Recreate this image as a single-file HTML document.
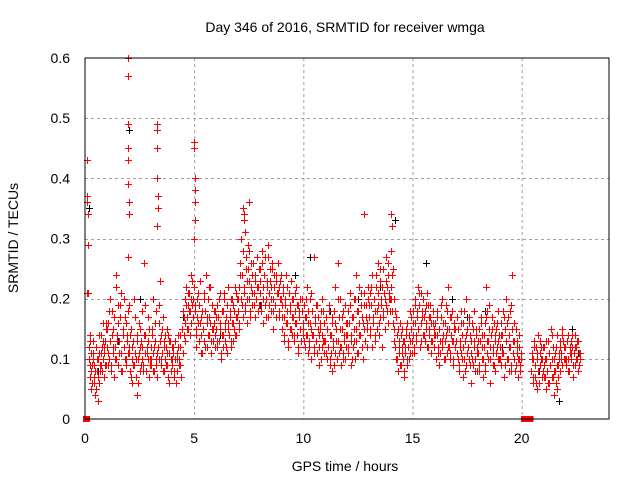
<!DOCTYPE html>
<html><head><meta charset="utf-8"><style>
html,body{margin:0;padding:0;background:#fff;}
svg{display:block;font-family:"Liberation Sans",sans-serif;}
</style></head><body>
<svg id="chart" width="640" height="480" viewBox="0 0 640 480" xmlns="http://www.w3.org/2000/svg">
<text x="345" y="32" font-size="14" text-anchor="middle" fill="#000">Day 346 of 2016, SRMTID for receiver wmga</text>
<text x="345" y="471" font-size="14" text-anchor="middle" fill="#000">GPS time / hours</text>
<text x="0" y="0" font-size="14" text-anchor="middle" fill="#000" transform="translate(18,238) rotate(-90)">SRMTID / TECUs</text>
<g id="grid"></g>
<g id="ticks"></g>
<g id="black" shape-rendering="crispEdges"></g>
<g id="red" shape-rendering="crispEdges"></g>
<rect x="85" y="58" width="524" height="361" fill="none" stroke="#000" stroke-width="1"/>
</svg>
<script>
const xTicks=[0,5,10,15,20];
const yTicks=[0,0.1,0.2,0.3,0.4,0.5,0.6];
const yTickLabels=["0","0.1","0.2","0.3","0.4","0.5","0.6"];
const segStart=[0.15,1,2,3,4,5,6,7,8,9,10,11,12,13,14,15,16,17,18,19,20.45,21,22];
const segEnd=[1,2,3,4,5,6,7,8,9,10,11,12,13,14,15,16,17,18,19,20,21,22,22.7];
const seg0=[0.21,0.12,0.09,0.14,0.08,0.11,0.06,0.1,0.13,0.07,0.09,0.04,0.12,0.05,0.08,0.03,0.1,0.06,0.11,0.08,0.14,0.09,0.12,0.1,0.16,0.07,0.11,0.13,0.09,0.15];
const seg1=[0.12,0.09,0.16,0.1,0.2,0.13,0.08,0.18,0.11,0.15,0.07,0.12,0.24,0.1,0.14,0.19,0.09,0.13,0.17,0.11,0.21,0.08,0.14,0.12,0.2,0.1,0.16,0.09,0.13,0.18];
const seg2=[0.19,0.12,0.08,0.15,0.1,0.06,0.13,0.09,0.2,0.11,0.07,0.14,0.04,0.1,0.16,0.12,0.08,0.13,0.1,0.18,0.09,0.26,0.11,0.14,0.08,0.12,0.17,0.1,0.15,0.09];
const seg3=[0.12,0.09,0.15,0.11,0.2,0.08,0.13,0.1,0.18,0.07,0.12,0.16,0.1,0.23,0.14,0.09,0.11,0.17,0.13,0.08,0.1,0.12,0.15,0.09,0.14,0.06,0.11,0.13,0.08,0.1];
const seg4=[0.09,0.12,0.07,0.1,0.13,0.06,0.11,0.08,0.14,0.1,0.09,0.12,0.07,0.15,0.11,0.18,0.14,0.2,0.16,0.22,0.17,0.19,0.15,0.21,0.18,0.16,0.24,0.19,0.17,0.2];
const seg5=[0.22,0.18,0.15,0.12,0.2,0.16,0.13,0.19,0.23,0.14,0.17,0.11,0.15,0.21,0.13,0.18,0.24,0.12,0.16,0.2,0.14,0.17,0.22,0.11,0.15,0.19,0.13,0.16,0.12,0.18];
const seg6=[0.15,0.19,0.12,0.17,0.13,0.21,0.16,0.1,0.14,0.18,0.12,0.2,0.15,0.13,0.17,0.11,0.16,0.22,0.14,0.18,0.12,0.2,0.16,0.13,0.19,0.15,0.22,0.17,0.14,0.2];
const seg7=[0.18,0.22,0.15,0.26,0.2,0.3,0.24,0.17,0.33,0.21,0.19,0.27,0.23,0.16,0.25,0.2,0.28,0.18,0.22,0.24,0.19,0.26,0.21,0.17,0.23,0.2,0.27,0.22,0.18,0.25];
const seg8=[0.21,0.25,0.18,0.28,0.22,0.16,0.24,0.19,0.27,0.2,0.23,0.17,0.29,0.21,0.25,0.18,0.22,0.26,0.15,0.2,0.24,0.19,0.23,0.17,0.21,0.26,0.18,0.22,0.2,0.24];
const seg9=[0.19,0.15,0.22,0.17,0.13,0.2,0.24,0.16,0.18,0.12,0.21,0.15,0.19,0.23,0.14,0.17,0.2,0.13,0.18,0.16,0.22,0.14,0.19,0.11,0.17,0.2,0.15,0.13,0.18,0.16];
const seg10=[0.15,0.19,0.12,0.17,0.14,0.22,0.11,0.16,0.13,0.2,0.15,0.1,0.18,0.14,0.27,0.12,0.16,0.19,0.13,0.11,0.17,0.14,0.09,0.15,0.18,0.12,0.2,0.13,0.16,0.11];
const seg11=[0.13,0.17,0.1,0.15,0.12,0.19,0.09,0.14,0.11,0.16,0.08,0.13,0.18,0.11,0.22,0.15,0.1,0.26,0.13,0.17,0.12,0.2,0.09,0.15,0.11,0.18,0.14,0.1,0.16,0.12];
const seg12=[0.14,0.18,0.11,0.16,0.21,0.13,0.09,0.17,0.12,0.2,0.15,0.1,0.24,0.13,0.18,0.11,0.16,0.22,0.14,0.19,0.12,0.17,0.1,0.21,0.15,0.13,0.19,0.16,0.12,0.2];
const seg13=[0.17,0.21,0.14,0.19,0.12,0.24,0.16,0.2,0.13,0.18,0.22,0.15,0.26,0.19,0.14,0.23,0.17,0.2,0.12,0.25,0.18,0.21,0.15,0.27,0.19,0.22,0.16,0.24,0.2,0.18];
const seg14=[0.22,0.28,0.18,0.25,0.15,0.2,0.12,0.17,0.1,0.14,0.08,0.13,0.11,0.16,0.09,0.12,0.15,0.1,0.13,0.07,0.11,0.14,0.09,0.16,0.12,0.1,0.18,0.13,0.15,0.11];
const seg15=[0.14,0.18,0.11,0.16,0.2,0.13,0.17,0.22,0.15,0.19,0.12,0.21,0.16,0.18,0.14,0.2,0.17,0.13,0.19,0.15,0.21,0.12,0.17,0.14,0.19,0.11,0.16,0.13,0.18,0.15];
const seg16=[0.12,0.16,0.1,0.14,0.18,0.11,0.15,0.09,0.13,0.17,0.12,0.2,0.14,0.1,0.16,0.13,0.19,0.11,0.15,0.22,0.12,0.17,0.1,0.14,0.18,0.13,0.09,0.16,0.12,0.15];
const seg17=[0.13,0.17,0.1,0.15,0.08,0.12,0.18,0.11,0.14,0.07,0.16,0.1,0.13,0.2,0.09,0.15,0.12,0.17,0.1,0.14,0.06,0.11,0.16,0.09,0.13,0.18,0.1,0.15,0.12,0.08];
const seg18=[0.11,0.15,0.08,0.13,0.17,0.1,0.14,0.07,0.12,0.16,0.09,0.22,0.13,0.18,0.1,0.15,0.12,0.06,0.14,0.17,0.11,0.09,0.16,0.13,0.08,0.15,0.12,0.18,0.1,0.14];
const seg19=[0.12,0.16,0.09,0.14,0.18,0.11,0.07,0.15,0.13,0.2,0.1,0.17,0.08,0.14,0.12,0.19,0.09,0.24,0.13,0.16,0.1,0.08,0.15,0.11,0.13,0.07,0.1,0.12,0.09,0.11];
const seg20=[0.08,0.11,0.06,0.1,0.13,0.07,0.09,0.12,0.05,0.1,0.08,0.14,0.06,0.11,0.09,0.12,0.07,0.1,0.08];
const seg21=[0.09,0.12,0.07,0.1,0.05,0.08,0.13,0.06,0.11,0.09,0.15,0.07,0.1,0.12,0.04,0.08,0.11,0.06,0.09,0.14,0.07,0.1,0.12,0.08,0.11,0.14,0.09,0.13,0.1,0.12];
const seg22=[0.12,0.09,0.13,0.1,0.14,0.08,0.11,0.13,0.1,0.12,0.07,0.11,0.14,0.09,0.12,0.1,0.13,0.08,0.11,0.1];
const segVals=[seg0,seg1,seg2,seg3,seg4,seg5,seg6,seg7,seg8,seg9,seg10,seg11,seg12,seg13,seg14,seg15,seg16,seg17,seg18,seg19,seg20,seg21,seg22];
const segB0=[0.1,0.07,0.13,0.05,0.09,0.11,0.06,0.08,0.12,0.1,0.07,0.14,0.09,0.11,0.08,0.13,0.1,0.12,0.09,0.16];
const segB1=[0.15,0.11,0.18,0.09,0.14,0.12,0.17,0.1,0.22,0.13,0.16,0.11,0.19,0.08,0.15,0.12,0.17,0.1,0.14,0.11];
const segB2=[0.11,0.14,0.07,0.12,0.09,0.17,0.1,0.13,0.06,0.11,0.15,0.09,0.12,0.08,0.14,0.19,0.11,0.13,0.07,0.1];
const segB3=[0.1,0.14,0.08,0.12,0.16,0.09,0.11,0.19,0.13,0.1,0.15,0.08,0.12,0.14,0.09,0.11,0.07,0.13,0.1,0.12];
const segB4=[0.11,0.08,0.13,0.06,0.1,0.12,0.09,0.14,0.07,0.11,0.17,0.13,0.19,0.15,0.21,0.18,0.14,0.2,0.23,0.17];
const segB5=[0.19,0.14,0.17,0.21,0.13,0.16,0.11,0.18,0.15,0.2,0.12,0.17,0.14,0.22,0.16,0.13,0.19,0.15,0.18,0.14];
const segB6=[0.17,0.13,0.2,0.15,0.11,0.18,0.14,0.21,0.16,0.12,0.19,0.15,0.17,0.13,0.2,0.16,0.18,0.14,0.21,0.17];
const segB7=[0.2,0.16,0.24,0.19,0.28,0.22,0.18,0.25,0.2,0.29,0.23,0.17,0.26,0.21,0.19,0.24,0.2,0.27,0.22,0.19];
const segB8=[0.23,0.19,0.26,0.2,0.24,0.17,0.22,0.27,0.19,0.23,0.2,0.25,0.18,0.22,0.19,0.24,0.21,0.17,0.23,0.2];
const segB9=[0.17,0.21,0.14,0.19,0.16,0.22,0.13,0.18,0.15,0.2,0.17,0.14,0.21,0.16,0.19,0.12,0.18,0.15,0.2,0.14];
const segB10=[0.13,0.17,0.2,0.14,0.18,0.12,0.16,0.21,0.14,0.11,0.17,0.13,0.19,0.15,0.12,0.16,0.1,0.14,0.18,0.13];
const segB11=[0.11,0.15,0.12,0.18,0.1,0.14,0.17,0.12,0.09,0.16,0.13,0.2,0.11,0.15,0.12,0.17,0.1,0.13,0.19,0.14];
const segB12=[0.16,0.12,0.19,0.14,0.1,0.17,0.13,0.2,0.15,0.11,0.18,0.14,0.21,0.12,0.16,0.19,0.13,0.17,0.15,0.22];
const segB13=[0.19,0.15,0.22,0.17,0.2,0.14,0.24,0.18,0.21,0.16,0.25,0.19,0.22,0.17,0.2,0.23,0.18,0.26,0.21,0.2];
const segB14=[0.2,0.24,0.16,0.13,0.18,0.1,0.15,0.12,0.09,0.14,0.11,0.13,0.08,0.12,0.15,0.1,0.14,0.11,0.17,0.13];
const segB15=[0.16,0.12,0.19,0.14,0.18,0.15,0.21,0.13,0.17,0.2,0.14,0.18,0.16,0.12,0.19,0.15,0.17,0.13,0.16,0.14];
const segB16=[0.14,0.1,0.17,0.12,0.15,0.11,0.19,0.13,0.16,0.1,0.14,0.18,0.12,0.15,0.11,0.17,0.13,0.1,0.15,0.12];
const segB17=[0.11,0.15,0.09,0.13,0.16,0.1,0.12,0.18,0.08,0.14,0.11,0.16,0.09,0.13,0.1,0.15,0.12,0.08,0.14,0.11];
const segB18=[0.13,0.09,0.16,0.12,0.1,0.14,0.08,0.17,0.11,0.13,0.19,0.1,0.15,0.12,0.09,0.14,0.11,0.16,0.13,0.1];
const segB19=[0.1,0.14,0.11,0.17,0.09,0.13,0.16,0.1,0.12,0.18,0.08,0.15,0.11,0.13,0.09,0.12,0.1,0.14,0.08,0.1];
const segB20=[0.1,0.07,0.12,0.09,0.06,0.11,0.08,0.13,0.1,0.07,0.12];
const segB21=[0.07,0.1,0.13,0.08,0.06,0.11,0.09,0.14,0.07,0.1,0.08,0.12,0.05,0.09,0.11,0.13,0.1,0.15,0.12,0.1];
const segB22=[0.1,0.13,0.08,0.12,0.11,0.14,0.09,0.12,0.1,0.13,0.09,0.11];
const segValsB=[segB0,segB1,segB2,segB3,segB4,segB5,segB6,segB7,segB8,segB9,segB10,segB11,segB12,segB13,segB14,segB15,segB16,segB17,segB18,segB19,segB20,segB21,segB22];
const spikeT=[0.1,0.1,0.1,0.12,0.12,0.08,0.15,1.95,1.95,1.97,1.97,1.98,1.98,2.0,2.0,1.96,3.3,3.3,3.32,3.32,3.33,3.35,3.3,5.0,5.0,5.02,5.03,5.05,5.05,5.0,7.25,7.3,7.35,7.5,12.8,12.8,14.0,14.05];
const spikeV=[0.43,0.37,0.36,0.34,0.29,0.21,0.21,0.6,0.57,0.49,0.45,0.43,0.39,0.36,0.34,0.27,0.49,0.48,0.45,0.4,0.37,0.35,0.32,0.46,0.45,0.4,0.38,0.36,0.33,0.3,0.35,0.34,0.31,0.36,0.34,0.34,0.34,0.32];
const zeroT=[0.05,0.1,20.1,20.35,20.4];
const zeroV=[0,0,0,0,0];
const blackT=[0.2,0.6,1.5,2.0,2.5,4.5,6.2,8.0,9.6,10.3,11.2,12.5,13.5,14.2,15.6,16.8,17.5,18.3,19.1,20.8,21.7,22.3,22.6];
const blackV=[0.35,0.08,0.13,0.48,0.2,0.17,0.14,0.19,0.24,0.27,0.18,0.2,0.22,0.33,0.26,0.2,0.17,0.18,0.12,0.08,0.03,0.15,0.11];

const X0=85,X1=609,Y0=419,Y1=58,XMAX=24,YMAX=0.6;
const sx=t=>X0+(X1-X0)*t/XMAX;
const sy=v=>Y0-(Y0-Y1)*v/YMAX;
const NS="http://www.w3.org/2000/svg";
function mk(tag,attrs,parent){const e=document.createElementNS(NS,tag);for(const k in attrs)e.setAttribute(k,attrs[k]);parent.appendChild(e);return e;}
const grid=document.getElementById('grid'),ticks=document.getElementById('ticks');
xTicks.forEach((t,i)=>{
  if(t>0){const g=mk('line',{x1:sx(t)+0.5,x2:sx(t)+0.5,y1:Y1,y2:Y0,stroke:'#a0a0a0','stroke-dasharray':'3,3','stroke-width':1},grid);
  
  }
  const l=mk('text',{x:sx(t),y:443,'font-size':14,'text-anchor':'middle',fill:'#000'},ticks);
  l.textContent=String(t);
  
  
});
yTicks.forEach((v,i)=>{
  if(v>0&&v<YMAX){const g=mk('line',{x1:X0,x2:X1,y1:Math.round(sy(v))+0.5,y2:Math.round(sy(v))+0.5,stroke:'#a0a0a0','stroke-dasharray':'3,3','stroke-width':1},grid);
  
  }
  const l=mk('text',{x:70,y:sy(v)+5,'font-size':14,'text-anchor':'end',fill:'#000'},ticks);
  l.textContent=yTickLabels[i];
  
  
});
function cross(t,v,color,parent,name){
  const x=Math.round(sx(t))+0.5,y=Math.round(sy(v))+0.5;
  const p=mk('path',{d:`M${x-3.5},${y}H${x+3.5}M${x},${y-3.5}V${y+3.5}`,stroke:color,'stroke-width':1.2,fill:'none'},parent);
  
  
}
const blackG=document.getElementById('black'),redG=document.getElementById('red');
blackT.forEach((t,i)=>cross(t,blackV[i],'#000',blackG,'black-point'));
segVals.forEach((vals,s)=>{
  const a=segStart[s],b=segEnd[s];
  vals.forEach((v,j)=>cross(a+(b-a)*j/vals.length,v,'#ff0000',redG,'red-point'));
});
segValsB.forEach((vals,s)=>{
  const a=segStart[s],b=segEnd[s];
  vals.forEach((v,j)=>cross(a+(b-a)*(j+0.37)/vals.length,v,'#ff0000',redG,'red-point'));
});
spikeT.forEach((t,i)=>cross(t,spikeV[i],'#ff0000',redG,'red-point'));
zeroT.forEach((t,i)=>{
  const r=mk('rect',{x:sx(t)-3,y:sy(zeroV[i])-3,width:6,height:6,fill:'#ff0000'},redG);
  
  
});
</script>
</body></html>
